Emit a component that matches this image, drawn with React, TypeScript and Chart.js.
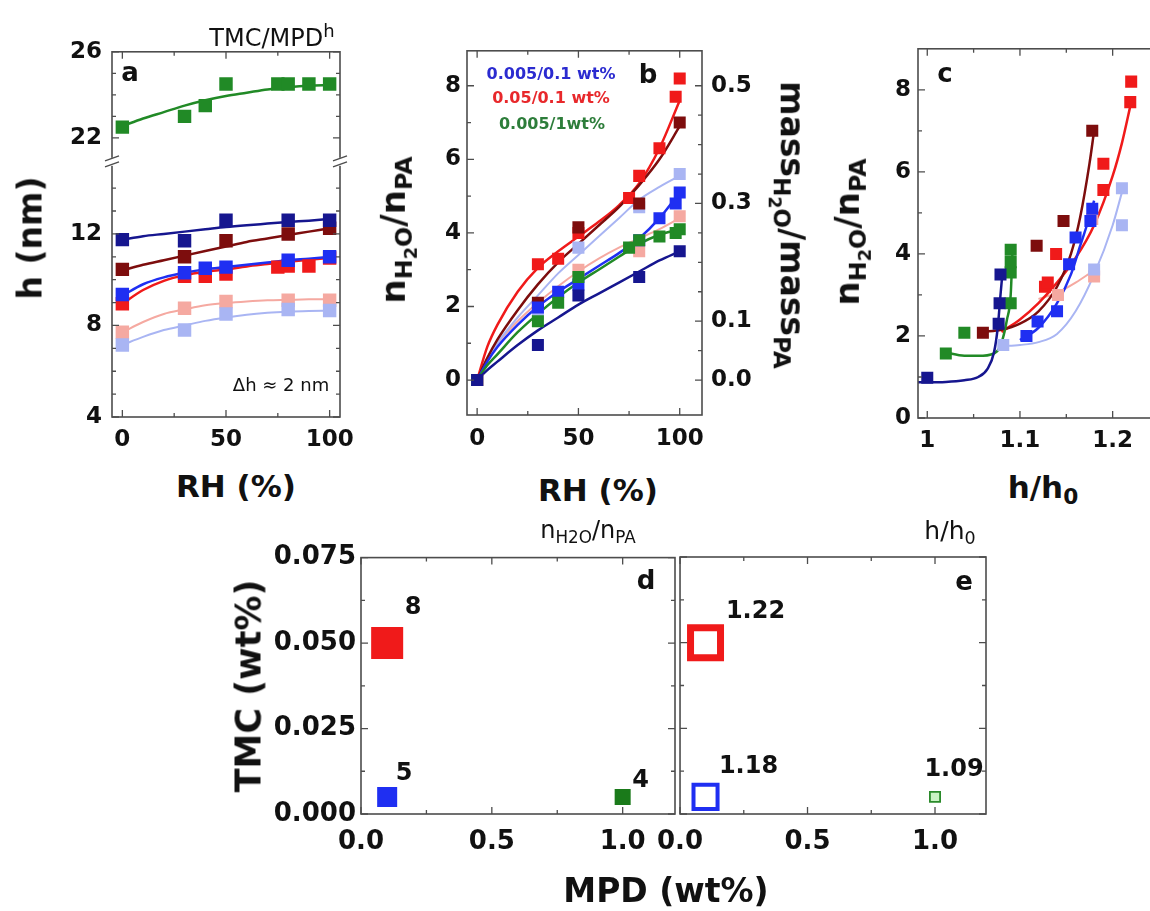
import React, { useEffect, useRef } from "react";
import { Chart, registerables } from "chart.js";

Chart.register(...registerables);

const FONT = "'DejaVu Sans', 'Liberation Sans', sans-serif";
const AXIS = "#4d4d4d";
const INK = "#111111";

const COL = {
  navy: "#16168f",
  blue: "#1f2ff2",
  maroon: "#7d0d0d",
  red: "#f01a1a",
  pink: "#f5a9a1",
  lblue: "#a9b5f3",
  green: "#218a26",
};

// ---------------- Panel a: h (nm) vs RH (%) ----------------
const aGreenRH = [0, 30, 40, 50, 75, 80, 90, 100];
const aGreenH = [22.5, 23.0, 23.5, 24.5, 24.5, 24.5, 24.5, 24.5];
const aNavyRH = [0, 30, 50, 80, 100];
const aNavyH = [11.75, 11.7, 12.6, 12.6, 12.6];
const aMaroonRH = [0, 30, 50, 80, 100];
const aMaroonH = [10.45, 11.0, 11.7, 12.0, 12.25];
const aBlueRH = [0, 30, 40, 50, 80, 100];
const aBlueH = [9.35, 10.3, 10.5, 10.55, 10.85, 11.0];
const aRedRH = [0, 30, 40, 50, 75, 80, 90, 100];
const aRedH = [8.95, 10.15, 10.15, 10.25, 10.55, 10.6, 10.6, 10.95];
const aPinkRH = [0, 30, 50, 80, 100];
const aPinkH = [7.7, 8.75, 9.05, 9.1, 9.1];
const aLblueRH = [0, 30, 50, 80, 100];
const aLblueH = [7.15, 7.8, 8.5, 8.7, 8.65];

const aFitRH = [0, 10, 20, 30, 40, 50, 60, 70, 80, 90, 100];
const aGreenFit = [22.55, 22.9, 23.2, 23.5, 23.75, 23.95, 24.1, 24.25, 24.35, 24.42, 24.45];
const aNavyFit = [11.75, 11.9, 12.0, 12.1, 12.2, 12.3, 12.38, 12.45, 12.52, 12.58, 12.65];
const aMaroonFit = [10.4, 10.65, 10.85, 11.05, 11.25, 11.45, 11.65, 11.8, 11.95, 12.1, 12.25];
const aBlueFit = [9.3, 9.8, 10.1, 10.3, 10.45, 10.55, 10.65, 10.75, 10.85, 10.92, 11.0];
const aRedFit = [8.95, 9.55, 9.95, 10.2, 10.35, 10.45, 10.58, 10.68, 10.78, 10.87, 10.95];
const aPinkFit = [7.7, 8.15, 8.5, 8.7, 8.88, 8.98, 9.05, 9.1, 9.12, 9.14, 9.15];
const aLblueFit = [7.15, 7.5, 7.8, 8.0, 8.2, 8.35, 8.47, 8.55, 8.6, 8.63, 8.65];

const aYLabels = [4, 8, 12, 22, 26];
const aYMinor = [5, 6, 7, 9, 10, 11, 13, 14, 23, 24, 25];
const aXLabels = [0, 50, 100];
const aXMinor = [25, 75];

// ---------------- Panel b: nH2O/nPA vs RH (%) ----------------
const bNavyRH = [0, 30, 50, 80, 100];
const bNavyN = [0, 0.95, 2.3, 2.8, 3.5];
const bBlueRH = [0, 30, 40, 50, 80, 90, 98, 100];
const bBlueN = [0, 1.97, 2.4, 2.6, 3.8, 4.4, 4.8, 5.1];
const bRedRH = [0, 30, 40, 50, 75, 80, 90, 98, 100];
const bRedN = [0, 3.15, 3.3, 4.0, 4.95, 5.55, 6.3, 7.7, 8.2];
const bMaroonRH = [0, 30, 50, 80, 100];
const bMaroonN = [0, 2.1, 4.15, 4.8, 7.0];
const bGreenRH = [0, 30, 40, 50, 75, 80, 90, 98, 100];
const bGreenN = [0, 1.6, 2.1, 2.8, 3.6, 3.8, 3.9, 4.0, 4.1];
const bPinkRH = [0, 50, 80, 100];
const bPinkN = [0, 3.0, 3.5, 4.45];
const bLblueRH = [0, 30, 50, 80, 100];
const bLblueN = [0, 1.8, 3.6, 4.7, 5.6];

const bFitRH = [0, 5, 10, 20, 30, 40, 50, 60, 70, 80, 90, 100];
const bRedFit = [0, 0.9, 1.5, 2.4, 3.05, 3.5, 3.9, 4.3, 4.75, 5.35, 6.3, 7.6];
const bMaroonFit = [0, 0.6, 1.1, 1.9, 2.6, 3.2, 3.7, 4.2, 4.7, 5.3, 6.0, 6.9];
const bBlueFit = [0, 0.5, 0.9, 1.5, 2.0, 2.4, 2.75, 3.1, 3.45, 3.85, 4.4, 5.1];
const bGreenFit = [0, 0.4, 0.7, 1.3, 1.8, 2.25, 2.65, 3.0, 3.35, 3.7, 3.95, 4.1];
const bNavyFit = [0, 0.27, 0.5, 0.95, 1.35, 1.7, 2.05, 2.35, 2.65, 2.95, 3.25, 3.5];
const bLblueFit = [0, 0.55, 1.0, 1.7, 2.3, 2.9, 3.4, 3.9, 4.4, 4.9, 5.25, 5.55];
const bPinkFit = [0, 0.6, 1.0, 1.6, 2.1, 2.55, 2.95, 3.3, 3.6, 3.85, 4.1, 4.4];

const bYLabels = [0, 2, 4, 6, 8];
const bYMinor = [1, 3, 5, 7];
const bMassLabels = [0.0, 0.1, 0.3, 0.5];
const bMassMinor = [0.05, 0.15, 0.2, 0.25, 0.35, 0.4, 0.45];
const bMassPerN = 0.0625;
const bLegend = ["0.005/0.1 wt%", "0.05/0.1 wt%", "0.005/1wt%"];

// ---------------- Panel c: nH2O/nPA vs h/h0 ----------------
const cNavyX = [1.0, 1.077, 1.078, 1.079];
const cNavyY = [0.98, 2.3, 2.8, 3.5];
const cGreenX = [1.02, 1.04, 1.09, 1.09, 1.09, 1.09];
const cGreenY = [1.57, 2.08, 2.8, 3.55, 3.8, 4.1];
const cMaroonX = [1.06, 1.118, 1.147, 1.178];
const cMaroonY = [2.08, 4.2, 4.8, 7.0];
const cRedX = [1.127, 1.13, 1.139, 1.19, 1.19, 1.219, 1.22];
const cRedY = [3.2, 3.3, 4.0, 5.56, 6.2, 7.7, 8.2];
const cBlueX = [1.107, 1.119, 1.14, 1.153, 1.16, 1.176, 1.178];
const cBlueY = [2.0, 2.35, 2.6, 3.75, 4.4, 4.8, 5.1];
const cLblueX = [1.082, 1.18, 1.21, 1.21];
const cLblueY = [1.78, 3.62, 4.7, 5.6];
const cPinkX = [1.141, 1.178, 1.18];
const cPinkY = [3.0, 4.85, 3.45];

const cNavyFitX = [0.99, 1.02, 1.04, 1.055, 1.065, 1.072, 1.076, 1.079, 1.081];
const cNavyFitY = [0.87, 0.88, 0.92, 1.0, 1.2, 1.6, 2.2, 3.0, 3.5];
const cGreenFitX = [1.02, 1.04, 1.06, 1.075, 1.081, 1.086, 1.09, 1.092];
const cGreenFitY = [1.6, 1.52, 1.52, 1.62, 1.9, 2.4, 3.0, 4.1];
const cMaroonFitX = [1.06, 1.08, 1.1, 1.12, 1.14, 1.155, 1.165, 1.175, 1.18];
const cMaroonFitY = [2.1, 2.15, 2.3, 2.6, 3.2, 4.0, 4.9, 6.2, 7.0];
const cRedFitX = [1.08, 1.1, 1.12, 1.14, 1.16, 1.18, 1.2, 1.21, 1.22];
const cRedFitY = [2.1, 2.4, 2.8, 3.3, 3.9, 4.7, 5.9, 6.7, 7.7];
const cBlueFitX = [1.1, 1.12, 1.14, 1.155, 1.165, 1.175, 1.18];
const cBlueFitY = [1.9, 2.2, 2.8, 3.5, 4.2, 4.9, 5.3];
const cLblueFitX = [1.08, 1.1, 1.12, 1.14, 1.16, 1.18, 1.2, 1.21];
const cLblueFitY = [1.75, 1.78, 1.85, 2.05, 2.6, 3.5, 4.7, 5.5];
const cPinkFitX = [1.12, 1.14, 1.16, 1.18];
const cPinkFitY = [2.9, 3.05, 3.3, 3.6];

const cXLabels = [1.0, 1.1, 1.2];
const cXMinor = [1.05, 1.15];
const cYLabels = [0, 2, 4, 6, 8];
const cYMinor = [1, 3, 5, 7];

// ---------------- Panels d / e ----------------
const deMPD = [0.1, 0.1, 1.0];
const deTMC = [0.05, 0.005, 0.005];
const dRatio = [8, 5, 4];
const eHeight = [1.22, 1.18, 1.09];

const deXLabels = [0.0, 0.5, 1.0];
const deXMinor = [0.25, 0.75];
const deYLabels = [0.0, 0.025, 0.05, 0.075];
const deYMinor = [0.0125, 0.0375, 0.0625];

// ---------------- helpers ----------------
const pts = (xs: number[], ys: number[], f: (v: number) => number = (v) => v) =>
  xs.map((x, i) => ({ x, y: f(ys[i]) }));

// broken axis mapping for panel a (upper segment 22..26 compressed above a break)
const brk = (h: number) => (h >= 20 ? 16.195 + (h - 22) * 0.9405 : h);

const pointDs = (data: any[], color: string, r: number, order = 0) => ({
  data,
  showLine: false,
  pointStyle: "rect",
  pointRadius: r,
  backgroundColor: color,
  borderColor: color,
  borderWidth: 0,
  order,
});

const lineDs = (data: any[], color: string, w = 2.5, order = 2) => ({
  data,
  showLine: true,
  pointRadius: 0,
  borderColor: color,
  borderWidth: w,
  backgroundColor: color,
  cubicInterpolationMode: "monotone",
  fill: false,
  order,
});

function axis(o: {
  min: number;
  max: number;
  labels: number[];
  fmt: (v: number) => string;
  size: number;
  fit: number;
  horiz: boolean;
  pad: number;
  show?: boolean;
  position?: string;
}) {
  return {
    type: "linear",
    min: o.min,
    max: o.max,
    position: o.position,
    grid: { display: false, drawTicks: false },
    border: { display: false },
    ticks: {
      display: o.show !== false,
      autoSkip: false,
      maxRotation: 0,
      minRotation: 0,
      padding: o.pad,
      color: INK,
      font: { family: FONT, size: o.size, weight: "bold" },
      callback: (v: any) => o.fmt(Number(v)),
    },
    afterBuildTicks: (s: any) => {
      s.ticks = o.labels.map((v) => ({ value: v }));
    },
    afterFit: (s: any) => {
      if (o.horiz) s.height = o.fit;
      else s.width = o.fit;
    },
  };
}

type FrameOpts = {
  xMinor: number[];
  xMajor: number[];
  yMinor: number[];
  yMajor: number[];
  y2Minor?: number[];
  y2Major?: number[];
  breakAt?: number;
};

function framePlugin(o: FrameOpts) {
  return {
    id: "frame",
    afterDatasetsDraw(chart: any) {
      const { ctx, chartArea: a, scales } = chart;
      const sx = scales.x;
      const sy = scales.y;
      const sy2 = scales.y2;
      ctx.save();
      ctx.strokeStyle = AXIS;
      ctx.lineWidth = 1.6;
      ctx.strokeRect(a.left, a.top, a.right - a.left, a.bottom - a.top);
      ctx.lineWidth = 1.3;
      ctx.beginPath();
      const xs = (vals: number[], len: number) =>
        vals.forEach((v) => {
          const p = sx.getPixelForValue(v);
          ctx.moveTo(p, a.bottom);
          ctx.lineTo(p, a.bottom - len);
          ctx.moveTo(p, a.top);
          ctx.lineTo(p, a.top + len);
        });
      const ys = (scale: any, vals: number[], len: number, left: boolean, right: boolean) =>
        vals.forEach((v) => {
          const p = scale.getPixelForValue(v);
          if (left) {
            ctx.moveTo(a.left, p);
            ctx.lineTo(a.left + len, p);
          }
          if (right) {
            ctx.moveTo(a.right, p);
            ctx.lineTo(a.right - len, p);
          }
        });
      xs(o.xMinor, 4);
      xs(o.xMajor, 7);
      if (sy2 && o.y2Major) {
        ys(sy, o.yMinor, 4, true, false);
        ys(sy, o.yMajor, 7, true, false);
        ys(sy2, o.y2Minor || [], 4, false, true);
        ys(sy2, o.y2Major, 7, false, true);
      } else {
        ys(sy, o.yMinor, 4, true, true);
        ys(sy, o.yMajor, 7, true, true);
      }
      ctx.stroke();
      if (o.breakAt !== undefined) {
        const p = sy.getPixelForValue(o.breakAt);
        for (const ex of [a.left, a.right]) {
          ctx.fillStyle = "#ffffff";
          ctx.fillRect(ex - 3, p - 4, 6, 8);
          ctx.beginPath();
          ctx.lineWidth = 1.4;
          ctx.moveTo(ex - 7, p - 1);
          ctx.lineTo(ex + 7, p - 6);
          ctx.moveTo(ex - 7, p + 5);
          ctx.lineTo(ex + 7, p);
          ctx.stroke();
        }
      }
      ctx.restore();
    },
  };
}

function valueLabelPlugin(texts: string[], offsets: number[][], size: number) {
  return {
    id: "vlabels",
    afterDatasetsDraw(chart: any) {
      const { ctx } = chart;
      const meta = chart.getDatasetMeta(0);
      ctx.save();
      ctx.fillStyle = INK;
      ctx.font = `bold ${size}px ${FONT}`;
      ctx.textAlign = "center";
      ctx.textBaseline = "middle";
      meta.data.forEach((el: any, i: number) => {
        ctx.fillText(texts[i], el.x + offsets[i][0], el.y + offsets[i][1]);
      });
      ctx.restore();
    },
  };
}

function baseOptions(pad: any, scales: any) {
  return {
    responsive: false,
    animation: false,
    events: [],
    layout: { padding: pad, autoPadding: false },
    plugins: { legend: { display: false }, tooltip: { enabled: false } },
    scales,
  };
}

// ---------------- chart configs ----------------
function configA() {
  const f = brk;
  return {
    type: "scatter",
    data: {
      datasets: [
        pointDs(pts(aLblueRH, aLblueH, f), COL.lblue, 9.5, 1),
        pointDs(pts(aPinkRH, aPinkH, f), COL.pink, 9.5, 1),
        lineDs(pts(aFitRH, aLblueFit, f), COL.lblue, 2, 3),
        lineDs(pts(aFitRH, aPinkFit, f), COL.pink, 2, 3),
        pointDs(pts(aGreenRH, aGreenH, f), COL.green, 9.5),
        pointDs(pts(aNavyRH, aNavyH, f), COL.navy, 9.5),
        pointDs(pts(aMaroonRH, aMaroonH, f), COL.maroon, 9.5),
        pointDs(pts(aBlueRH, aBlueH, f), COL.blue, 9.5),
        pointDs(pts(aRedRH, aRedH, f), COL.red, 9.5),
        lineDs(pts(aFitRH, aGreenFit, f), COL.green),
        lineDs(pts(aFitRH, aNavyFit, f), COL.navy),
        lineDs(pts(aFitRH, aMaroonFit, f), COL.maroon),
        lineDs(pts(aFitRH, aBlueFit, f), COL.blue),
        lineDs(pts(aFitRH, aRedFit, f), COL.red),
      ],
    },
    options: baseOptions(
      { top: 20, right: 30, left: 0, bottom: 0 },
      {
        x: axis({ min: -5, max: 105, labels: aXLabels, fmt: (v) => String(v), size: 23, fit: 50, horiz: true, pad: 9 }),
        y: axis({
          min: 4,
          max: 19.957,
          labels: aYLabels.map(brk),
          fmt: (v) => {
            const i = aYLabels.findIndex((t) => Math.abs(brk(t) - v) < 1e-6);
            return i >= 0 ? String(aYLabels[i]) : "";
          },
          size: 23,
          fit: 80,
          horiz: false,
          pad: 10,
        }),
      }
    ),
    plugins: [
      framePlugin({
        xMinor: aXMinor,
        xMajor: aXLabels,
        yMinor: aYMinor.map(brk),
        yMajor: aYLabels.map(brk),
        breakAt: 15.15,
      }),
    ],
  };
}

function configB() {
  return {
    type: "scatter",
    data: {
      datasets: [
        pointDs(pts(bLblueRH, bLblueN), COL.lblue, 8.5, 1),
        pointDs(pts(bPinkRH, bPinkN), COL.pink, 8.5, 1),
        lineDs(pts(bFitRH, bLblueFit), COL.lblue, 2, 3),
        lineDs(pts(bFitRH, bPinkFit), COL.pink, 2, 3),
        pointDs(pts(bNavyRH, bNavyN), COL.navy, 8.5),
        pointDs(pts(bGreenRH, bGreenN), COL.green, 8.5),
        pointDs(pts(bBlueRH, bBlueN), COL.blue, 8.5),
        pointDs(pts(bMaroonRH, bMaroonN), COL.maroon, 8.5),
        pointDs(pts(bRedRH, bRedN), COL.red, 8.5),
        lineDs(pts(bFitRH, bNavyFit), COL.navy),
        lineDs(pts(bFitRH, bGreenFit), COL.green),
        lineDs(pts(bFitRH, bBlueFit), COL.blue),
        lineDs(pts(bFitRH, bMaroonFit), COL.maroon),
        lineDs(pts(bFitRH, bRedFit), COL.red),
      ],
    },
    options: baseOptions(
      { top: 20, right: 0, left: 0, bottom: 0 },
      {
        x: axis({ min: -5, max: 111, labels: aXLabels, fmt: (v) => String(v), size: 23, fit: 50, horiz: true, pad: 10 }),
        y: axis({ min: -0.95, max: 8.95, labels: bYLabels, fmt: (v) => String(v), size: 23, fit: 70, horiz: false, pad: 6 }),
        y2: axis({
          min: -0.95 * bMassPerN,
          max: 8.95 * bMassPerN,
          labels: bMassLabels,
          fmt: (v) => v.toFixed(1),
          size: 23,
          fit: 70,
          horiz: false,
          pad: 9,
          position: "right",
        }),
      }
    ),
    plugins: [
      framePlugin({
        xMinor: aXMinor,
        xMajor: aXLabels,
        yMinor: bYMinor,
        yMajor: bYLabels,
        y2Minor: bMassMinor,
        y2Major: bMassLabels,
      }),
    ],
  };
}

function configC() {
  return {
    type: "scatter",
    data: {
      datasets: [
        pointDs(pts(cLblueX, cLblueY), COL.lblue, 8.5, 1),
        pointDs(pts(cPinkX, cPinkY), COL.pink, 8.5, 1),
        lineDs(pts(cLblueFitX, cLblueFitY), COL.lblue, 2, 3),
        lineDs(pts(cPinkFitX, cPinkFitY), COL.pink, 2, 3),
        pointDs(pts(cNavyX, cNavyY), COL.navy, 8.5),
        pointDs(pts(cGreenX, cGreenY), COL.green, 8.5),
        pointDs(pts(cBlueX, cBlueY), COL.blue, 8.5),
        pointDs(pts(cMaroonX, cMaroonY), COL.maroon, 8.5),
        pointDs(pts(cRedX, cRedY), COL.red, 8.5),
        lineDs(pts(cNavyFitX, cNavyFitY), COL.navy),
        lineDs(pts(cGreenFitX, cGreenFitY), COL.green),
        lineDs(pts(cBlueFitX, cBlueFitY), COL.blue),
        lineDs(pts(cMaroonFitX, cMaroonFitY), COL.maroon),
        lineDs(pts(cRedFitX, cRedFitY), COL.red),
      ],
    },
    options: baseOptions(
      { top: 20, right: 30, left: 0, bottom: 0 },
      {
        x: axis({
          min: 0.99,
          max: 1.25,
          labels: cXLabels,
          fmt: (v) => (Math.abs(v - 1) < 1e-9 ? "1" : v.toFixed(1)),
          size: 23,
          fit: 50,
          horiz: true,
          pad: 9,
        }),
        y: axis({ min: 0, max: 9, labels: cYLabels, fmt: (v) => String(v), size: 23, fit: 70, horiz: false, pad: 7 }),
      }
    ),
    plugins: [framePlugin({ xMinor: cXMinor, xMajor: cXLabels, yMinor: cYMinor, yMajor: cYLabels })],
  };
}

const dColors = [COL.red, COL.blue, "#1a7a1a"];

function configD() {
  return {
    type: "scatter",
    data: {
      datasets: [
        {
          data: pts(deMPD, deTMC),
          showLine: false,
          pointStyle: "rect",
          pointRadius: (c: any) => dRatio[c.dataIndex] * 2.83,
          backgroundColor: dColors,
          borderColor: dColors,
          borderWidth: 0,
        },
      ],
    },
    options: baseOptions(
      { top: 20, right: 20, left: 0, bottom: 0 },
      {
        x: axis({ min: 0, max: 1.2, labels: deXLabels, fmt: (v) => v.toFixed(1), size: 26, fit: 70, horiz: true, pad: 13 }),
        y: axis({ min: 0, max: 0.075, labels: deYLabels, fmt: (v) => v.toFixed(3), size: 26, fit: 100, horiz: false, pad: 5 }),
      }
    ),
    plugins: [
      framePlugin({ xMinor: deXMinor, xMajor: deXLabels, yMinor: deYMinor, yMajor: deYLabels }),
      valueLabelPlugin(dRatio.map(String), [[26, -35], [17, -23], [18, -16]], 24),
    ],
  };
}

const eBorderColors = [COL.red, COL.blue, "#2a8a2a"];
const eFill = ["#ffffff", "#ffffff", "#c9f2c3"];
const eRadius = [21.2, 17, 7.2];
const eBorder = [7, 4, 1.8];

function configE() {
  return {
    type: "scatter",
    data: {
      datasets: [
        {
          data: pts(deMPD, deTMC),
          showLine: false,
          pointStyle: "rect",
          pointRadius: eRadius,
          backgroundColor: eFill,
          borderColor: eBorderColors,
          borderWidth: eBorder,
        },
      ],
    },
    options: baseOptions(
      { top: 20, right: 30, left: 0, bottom: 0 },
      {
        x: axis({ min: 0, max: 1.2, labels: deXLabels, fmt: (v) => v.toFixed(1), size: 26, fit: 70, horiz: true, pad: 13 }),
        y: axis({ min: 0, max: 0.075, labels: deYLabels, fmt: (v) => v.toFixed(3), size: 26, fit: 30, horiz: false, pad: 5, show: false }),
      }
    ),
    plugins: [
      framePlugin({ xMinor: deXMinor, xMajor: deXLabels, yMinor: deYMinor, yMajor: deYLabels }),
      valueLabelPlugin(eHeight.map((v) => v.toFixed(2)), [[50, -31], [43, -30], [19, -27]], 24),
    ],
  };
}

// ---------------- components ----------------
function ChartBox(props: { left: number; top: number; width: number; height: number; build: () => any }) {
  const ref = useRef<HTMLCanvasElement>(null);
  useEffect(() => {
    const chart = new Chart(ref.current as HTMLCanvasElement, props.build() as any);
    return () => chart.destroy();
  }, []);
  return (
    <canvas
      ref={ref}
      width={props.width}
      height={props.height}
      style={{ position: "absolute", left: props.left, top: props.top, width: props.width, height: props.height }}
    />
  );
}

function T(props: { x: number; y: number; size: number; rot?: number; weight?: number | string; color?: string; children: any }) {
  return (
    <div
      style={{
        position: "absolute",
        left: props.x,
        top: props.y,
        transform: `translate(-50%, -50%) rotate(${props.rot || 0}deg)`,
        fontSize: props.size,
        fontWeight: props.weight === undefined ? 700 : (props.weight as any),
        color: props.color || INK,
        lineHeight: 1,
        whiteSpace: "nowrap",
        fontFamily: FONT,
      }}
    >
      {props.children}
    </div>
  );
}

const Sub = (p: { children: any; s?: number }) => (
  <span style={{ fontSize: `${p.s || 0.7}em`, verticalAlign: "-0.3em", lineHeight: 1 }}>{p.children}</span>
);
const Sup = (p: { children: any }) => (
  <span style={{ fontSize: "0.75em", verticalAlign: "0.55em", lineHeight: 1 }}>{p.children}</span>
);

const NRatio = () => (
  <>
    n
    <Sub>
      H<Sub s={0.75}>2</Sub>O
    </Sub>
    /n<Sub>PA</Sub>
  </>
);

export default function App() {
  return (
    <div
      style={{
        position: "fixed",
        left: 0,
        top: 0,
        width: 1150,
        height: 911,
        overflow: "hidden",
        background: "#ffffff",
        fontFamily: FONT,
      }}
    >
      <ChartBox left={32} top={28} width={338} height={439} build={configA} />
      <ChartBox left={397} top={28} width={375} height={437} build={configB} />
      <ChartBox left={848} top={28} width={341} height={440} build={configC} />
      <ChartBox left={261} top={537} width={434} height={347} build={configD} />
      <ChartBox left={644} top={537} width={372} height={347} build={configE} />

      {/* panel a texts */}
      <T x={272} y={36} size={24} weight={400}>
        TMC/MPD<Sup>h</Sup>
      </T>
      <T x={130} y={72} size={26}>a</T>
      <T x={281} y={385} size={18} weight={400}>Δh ≈ 2 nm</T>
      <T x={30} y={238} size={33} rot={-90}>h (nm)</T>
      <T x={236} y={486} size={31}>RH (%)</T>

      {/* panel b texts */}
      <T x={551} y={74} size={16} color="#2b2bd0">{bLegend[0]}</T>
      <T x={551} y={98} size={16} color="#e8282b">{bLegend[1]}</T>
      <T x={552} y={124} size={16} color="#2d7d3a">{bLegend[2]}</T>
      <T x={648} y={74} size={26}>b</T>
      <T x={398} y={230} size={34} rot={-90}>
        <NRatio />
      </T>
      <T x={787} y={225} size={33} rot={90}>
        mass
        <Sub>
          H<Sub s={0.75}>2</Sub>O
        </Sub>
        /mass<Sub>PA</Sub>
      </T>
      <T x={598} y={490} size={31}>RH (%)</T>

      {/* panel c texts */}
      <T x={945} y={73} size={26}>c</T>
      <T x={852} y={232} size={34} rot={-90}>
        <NRatio />
      </T>
      <T x={1043} y={490} size={31}>
        h/h<Sub>0</Sub>
      </T>

      {/* panels d, e texts */}
      <T x={588} y={532} size={24} weight={400}>
        n<Sub>H2O</Sub>/n<Sub>PA</Sub>
      </T>
      <T x={646} y={580} size={26}>d</T>
      <T x={950} y={533} size={25} weight={400}>
        h/h<Sub>0</Sub>
      </T>
      <T x={964} y={581} size={26}>e</T>
      <T x={249} y={686} size={35} rot={-90}>TMC (wt%)</T>
      <T x={666} y={890} size={33}>MPD (wt%)</T>
    </div>
  );
}
